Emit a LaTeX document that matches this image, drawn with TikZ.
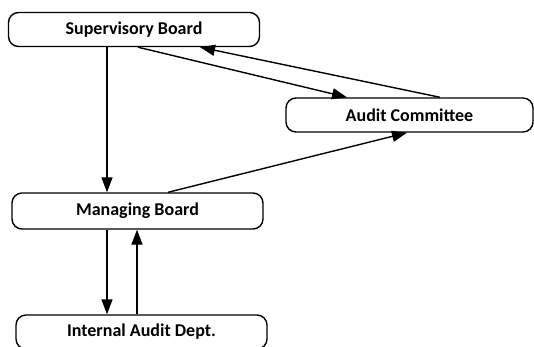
\documentclass[tikz,border=0pt]{standalone}
\usepackage{fontspec}
\setmainfont{Carlito}
\usetikzlibrary{arrows.meta}

\begin{document}
\begin{tikzpicture}[x=1pt, y=-1pt, line width=1.4pt,
  board/.style={draw, rounded corners=10pt, minimum width=251pt, minimum height=34pt, inner sep=0pt, font=\fontsize{18}{20}\selectfont\bfseries},
  flow/.style={-{Triangle[length=15pt,width=11pt]}}]
\useasboundingbox (0,0) rectangle (534,347);
\node[board] (sb) at (134,29.5) {Supervisory Board};
\node[board, minimum width=247pt] (ac) at (409.5,115) {Audit Committee};
\node[board, minimum height=36pt] (mb) at (137.5,211) {Managing Board};
\node[board] (iad) at (141.5,332) {Internal Audit Dept.};
\draw [flow] ([xshift=-27pt]sb.south) -- ([xshift=-30.5pt]mb.north);
\draw [flow] ([xshift=4pt]sb.south) -- ([xshift=-62.5pt]ac.north);
\draw [flow] ([xshift=30.5pt]ac.north) -- ([xshift=66pt]sb.south);
\draw [flow] ([xshift=30.5pt]mb.north) -- ([xshift=-2.5pt]ac.south);
\draw [flow] ([xshift=-30.5pt]mb.south) -- ([xshift=-34.5pt]iad.north);
\draw [flow] ([xshift=-4.5pt]iad.north) -- ([xshift=-0.5pt]mb.south);
\end{tikzpicture}
\end{document}
